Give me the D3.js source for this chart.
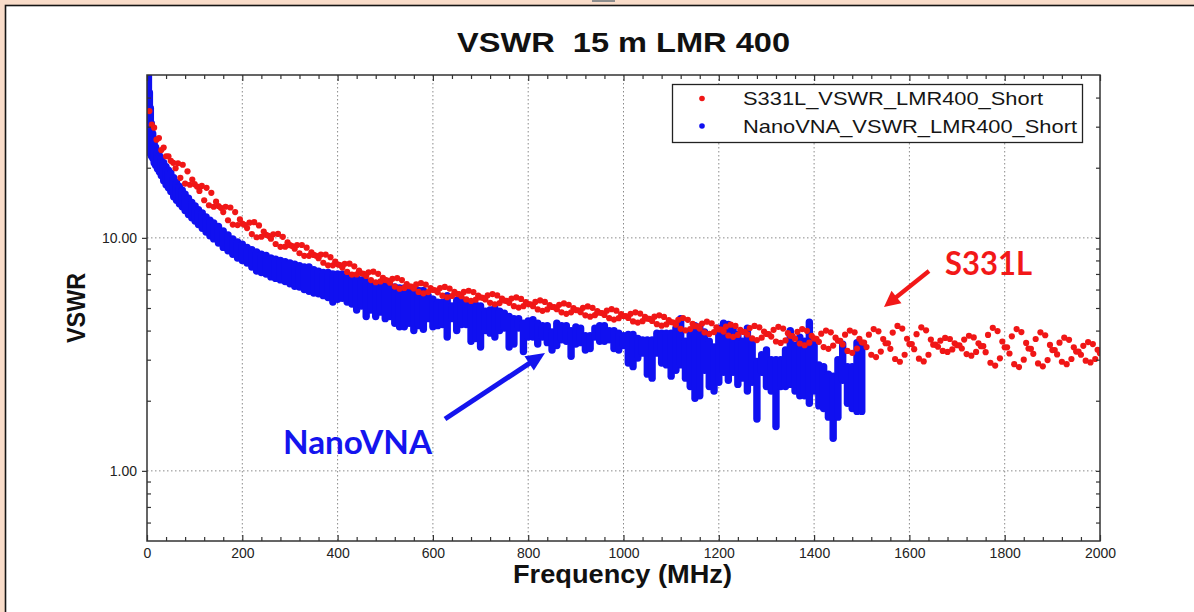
<!DOCTYPE html>
<html>
<head>
<meta charset="utf-8">
<script src="https://cdn.jsdelivr.net/npm/d3@7"></script>
<style>
  html, body { margin: 0; padding: 0; background: #f9dcc9; }
  svg { display: block; }
</style>
</head>
<body>
<svg id="chart" width="1194" height="612"></svg>
<script>
// axis values
const freqMajor = [0, 200, 400, 600, 800, 1000, 1200, 1400, 1600, 1800, 2000];
const vswrMajor = [1, 10];
const vswrMinor = [0.6, 0.7, 0.8, 0.9, 2, 3, 4, 5, 6, 7, 8, 9, 20, 30, 40];

const seriesNames = ["S331L_VSWR_LMR400_Short", "NanoVNA_VSWR_LMR400_Short"];
const seriesColors = ["#f01616", "#1010f0"];

// S331L sweep, one value every 5 MHz starting at 5 MHz
const s331Start = 5;
const s331Step = 5;
const s331Vswr = [
  35.0, 30.6, 29.7, 26.4, 26.8, 23.8, 24.4, 22.4, 22.4, 21.4,
  21.0, 19.9, 20.9, 18.1, 20.6, 17.1, 19.3, 16.9, 17.8, 17.0,
  16.6, 15.9, 16.7, 14.5, 16.4, 13.8, 15.6, 13.6, 14.3, 13.7,
  13.45, 12.9, 13.6, 11.9, 13.5, 11.4, 12.9, 11.35, 12.0, 11.5,
  11.38, 11.02, 11.62, 10.39, 11.68, 10.06, 11.31, 10.11, 10.64, 10.3,
  10.2, 9.92, 10.36, 9.41, 10.4, 9.15, 10.1, 9.17, 9.57, 9.3,
  9.22, 8.99, 9.32, 8.59, 9.32, 8.37, 9.08, 8.37, 8.67, 8.45,
  8.38, 8.18, 8.48, 7.82, 8.48, 7.62, 8.26, 7.62, 7.9, 7.7,
  7.64, 7.46, 7.74, 7.14, 7.75, 6.96, 7.55, 6.97, 7.23, 7.05,
  7.0, 6.86, 7.12, 6.59, 7.16, 6.45, 7.01, 6.5, 6.74, 6.6,
  6.56, 6.42, 6.67, 6.18, 6.72, 6.05, 6.59, 6.1, 6.33, 6.2,
  6.18, 6.07, 6.31, 5.86, 6.39, 5.78, 6.3, 5.85, 6.09, 5.98,
  5.96, 5.84, 6.09, 5.65, 6.16, 5.56, 6.06, 5.63, 5.86, 5.75,
  5.73, 5.62, 5.86, 5.44, 5.93, 5.36, 5.85, 5.43, 5.65, 5.55,
  5.53, 5.44, 5.67, 5.26, 5.74, 5.19, 5.66, 5.25, 5.48, 5.38,
  5.36, 5.26, 5.49, 5.09, 5.55, 5.02, 5.47, 5.09, 5.3, 5.2,
  5.19, 5.09, 5.31, 4.93, 5.39, 4.86, 5.31, 4.93, 5.15, 5.05,
  5.04, 4.94, 5.16, 4.79, 5.23, 4.72, 5.16, 4.79, 4.99, 4.9,
  4.89, 4.8, 5.01, 4.65, 5.08, 4.59, 5.01, 4.66, 4.85, 4.77,
  4.76, 4.67, 4.87, 4.52, 4.94, 4.46, 4.87, 4.52, 4.71, 4.62,
  4.61, 4.53, 4.72, 4.38, 4.79, 4.33, 4.73, 4.39, 4.58, 4.5,
  4.49, 4.4, 4.59, 4.26, 4.65, 4.2, 4.58, 4.25, 4.44, 4.35,
  4.33, 4.24, 4.45, 4.07, 4.53, 4.01, 4.45, 4.06, 4.28, 4.18,
  4.17, 4.08, 4.29, 3.93, 4.37, 3.87, 4.3, 3.94, 4.13, 4.05,
  4.04, 3.96, 4.16, 3.81, 4.24, 3.76, 4.19, 3.83, 4.03, 3.95,
  3.94, 3.85, 4.1, 3.7, 4.19, 3.64, 4.13, 3.73, 3.96, 3.87,
  3.86, 3.77, 4.03, 3.59, 4.15, 3.54, 4.08, 3.63, 3.9, 3.8,
  3.79, 3.69, 3.95, 3.52, 4.06, 3.46, 3.99, 3.55, 3.8, 3.7,
  3.69, 3.58, 3.88, 3.4, 4.0, 3.34, 3.93, 3.45, 3.73, 3.62,
  3.61, 3.49, 3.84, 3.27, 4.0, 3.21, 3.93, 3.35, 3.69, 3.56,
  3.55, 3.4, 3.84, 3.15, 4.06, 3.08, 3.97, 3.25, 3.68, 3.53,
  3.53, 3.34, 3.92, 3.02, 4.19, 2.94, 4.08, 3.15, 3.69, 3.5,
  3.5, 3.33, 3.86, 3.03, 4.13, 2.95, 4.01, 3.15, 3.66, 3.48,
  3.48, 3.41, 3.62, 3.27, 3.72, 3.24, 3.68, 3.32, 3.53, 3.46,
  3.46, 3.35, 3.66, 3.17, 3.8, 3.12, 3.74, 3.24, 3.53, 3.43,
  3.43, 3.23, 3.83, 2.91, 4.11, 2.83, 3.98, 3.04, 3.59, 3.39,
  3.39, 3.19, 3.78, 2.87, 4.06, 2.79, 3.94, 3.0, 3.54, 3.35,
  3.34, 3.18, 3.68, 2.89, 3.93, 2.81, 3.82, 2.99, 3.47, 3.3,
  3.3, 3.16, 3.55, 2.94, 3.73, 2.87, 3.65, 3.02, 3.39, 3.25,
  3.25, 3.15, 3.44, 2.97, 3.57, 2.92, 3.5, 3.02, 3.31, 3.2
];

// NanoVNA: the dots pile up into a band, read as [MHz, lowest, highest]
const nanoBands = [
  [1, 30, 70], [3, 26, 52], [5, 24, 42], [7, 23, 36], [9, 22.5, 31],
  [12, 22, 28], [15, 21, 26], [18, 20.5, 24.5], [22, 19.8, 23.5], [26, 19.2, 22.5],
  [30, 18.5, 21.8], [35, 17.6, 21], [40, 16.9, 20.2], [45, 16.4, 19.5], [50, 15.8, 19.0],
  [56, 15.0, 18.1], [62, 14.5, 17.3], [68, 14.0, 16.6], [74, 13.6, 16.0], [80, 13.1, 15.4],
  [87, 12.6, 14.8], [94, 12.2, 14.2], [101, 11.8, 13.7], [108, 11.4, 13.2], [116, 11.0, 12.8],
  [124, 10.6, 12.3], [132, 10.2, 11.9], [140, 9.9, 11.6], [150, 9.5, 11.2], [160, 9.1, 10.7],
  [170, 8.8, 10.3], [180, 8.5, 9.9], [190, 8.2, 9.6], [200, 8.0, 9.4], [210, 7.8, 9.1],
  [220, 7.5, 8.9], [230, 7.2, 8.7], [240, 7.1, 8.5], [250, 7.0, 8.4], [260, 6.8, 8.2],
  [270, 6.7, 8.1], [280, 6.6, 8.0], [290, 6.5, 7.9], [300, 6.35, 7.8], [310, 6.2, 7.7],
  [320, 6.15, 7.6], [330, 6.0, 7.5], [340, 5.9, 7.5], [350, 5.8, 7.3], [360, 5.75, 7.2],
  [370, 5.65, 7.1], [380, 5.55, 7.1], [390, 5.3, 7.0], [400, 5.45, 7.0], [410, 5.5, 7.0],
  [420, 5.3, 6.9], [430, 5.2, 6.8], [440, 4.9, 6.7], [450, 5.1, 6.6], [460, 4.6, 6.5],
  [470, 4.9, 6.4], [480, 4.6, 6.35], [490, 4.8, 6.3], [500, 4.5, 6.25], [510, 4.6, 6.2],
  [520, 4.3, 6.15], [530, 4.15, 6.1], [540, 4.15, 6.1], [550, 4.3, 6.0], [560, 4.0, 5.95],
  [570, 4.2, 5.95], [580, 4.05, 5.95], [590, 4.5, 5.65], [600, 4.15, 5.45], [610, 4.2, 5.3],
  [620, 4.25, 5.3], [630, 3.75, 5.65], [640, 4.5, 5.1], [650, 4.0, 5.4], [660, 4.25, 5.4],
  [670, 4.25, 5.2], [680, 3.6, 5.15], [690, 3.7, 5.15], [700, 3.4, 5.1], [710, 4.0, 4.85],
  [720, 3.9, 4.9], [730, 3.75, 5.0], [740, 4.0, 4.85], [750, 4.1, 4.75], [760, 3.4, 4.6],
  [770, 3.5, 4.5], [780, 4.1, 4.5], [790, 3.25, 4.3], [800, 3.75, 4.4], [810, 3.75, 4.45],
  [820, 3.5, 4.3], [830, 3.75, 4.2], [840, 3.55, 4.2], [850, 3.3, 3.95], [860, 3.45, 4.3],
  [870, 3.65, 4.2], [880, 3.6, 4.2], [890, 3.1, 4.0], [900, 3.5, 4.15], [910, 3.55, 4.1],
  [920, 3.3, 3.8], [930, 3.35, 3.8], [940, 3.75, 4.1], [950, 3.6, 4.2], [960, 3.6, 4.2],
  [970, 3.65, 4.0], [980, 3.35, 4.0], [990, 3.3, 3.9], [1000, 3.45, 3.8], [1010, 2.9, 3.85],
  [1020, 2.8, 3.85], [1030, 3.05, 3.7], [1040, 3.2, 3.65], [1050, 2.6, 3.65], [1060, 2.5, 3.65],
  [1070, 3.2, 3.9], [1080, 2.9, 3.9], [1090, 2.85, 3.9], [1100, 2.55, 3.9], [1110, 2.7, 4.1],
  [1120, 2.85, 4.5], [1130, 2.5, 3.6], [1140, 2.3, 3.9], [1150, 2.05, 4.2], [1160, 2.1, 4.15],
  [1170, 2.7, 3.95], [1180, 2.3, 3.6], [1190, 2.2, 3.4], [1200, 2.4, 4.1], [1210, 2.65, 4.3],
  [1220, 2.45, 4.25], [1230, 2.65, 4.1], [1240, 2.35, 3.85], [1250, 2.5, 3.6], [1260, 2.2, 4.1],
  [1270, 2.4, 3.6], [1280, 1.67, 2.95], [1290, 2.65, 3.15], [1300, 2.3, 3.3], [1310, 2.2, 3.0],
  [1320, 1.55, 3.0], [1330, 2.3, 3.0], [1340, 2.3, 3.3], [1350, 2.35, 4.0], [1360, 2.2, 3.45],
  [1370, 2.1, 3.75], [1380, 2.1, 3.6], [1390, 1.95, 4.35], [1400, 2.2, 3.6], [1410, 1.9, 2.85],
  [1420, 1.85, 2.8], [1430, 1.7, 2.6], [1440, 1.38, 2.55], [1450, 1.7, 3.0], [1460, 2.45, 3.5],
  [1470, 1.95, 2.8], [1480, 1.85, 2.8], [1490, 1.8, 3.55], [1500, 1.8, 3.4]
];

const s331 = s331Vswr.map((v, i) => ({ f: s331Start + i * s331Step, v: v }));

const plot = { left: 147, top: 75, right: 1100, bottom: 541 };

const x = d3.scaleLinear().domain([0, 2000]).range([plot.left, plot.right]);
const y = d3.scaleLog().domain([0.5, 50]).range([plot.bottom, plot.top]);

const svg = d3.select("#chart");
const defs = svg.append("defs");

defs.append("clipPath").attr("id", "plot-clip")
  .append("rect")
  .attr("x", plot.left)
  .attr("y", plot.top)
  .attr("width", plot.right - plot.left)
  .attr("height", plot.bottom - plot.top);

// page panel
svg.append("rect")
  .attr("x", 5.5).attr("y", 5.5)
  .attr("width", 1200).attr("height", 620)
  .attr("fill", "#fff")
  .attr("stroke", "#151515")
  .attr("stroke-width", 1.6);

svg.append("rect")
  .attr("x", 592).attr("y", 0)
  .attr("width", 23).attr("height", 2)
  .attr("fill", "#8d8d8d");

// grid
const grid = svg.append("g").attr("stroke", "#8a8a8a").attr("stroke-width", 1)
  .attr("stroke-dasharray", "1.5,2.5");

grid.selectAll("line.gx")
  .data(freqMajor.filter(f => f > 0 && f < 2000))
  .enter().append("line")
  .attr("x1", d => x(d)).attr("x2", d => x(d))
  .attr("y1", plot.top).attr("y2", plot.bottom);

grid.selectAll("line.gy")
  .data(vswrMajor)
  .enter().append("line")
  .attr("x1", plot.left).attr("x2", plot.right)
  .attr("y1", d => y(d)).attr("y2", d => y(d));

// data
const dataLayer = svg.append("g").attr("clip-path", "url(#plot-clip)");

dataLayer.append("g")
  .selectAll("line")
  .data(nanoBands)
  .enter().append("line")
  .attr("x1", d => x(d[0])).attr("x2", d => x(d[0]))
  .attr("y1", d => y(d[1])).attr("y2", d => y(d[2]))
  .attr("stroke", seriesColors[1])
  .attr("stroke-width", 7.4)
  .attr("stroke-linecap", "round");

dataLayer.append("g")
  .selectAll("circle")
  .data(s331)
  .enter().append("circle")
  .attr("cx", d => x(d.f))
  .attr("cy", d => y(d.v))
  .attr("r", 3.1)
  .attr("fill", seriesColors[0]);

// axes
const freqMinor = d3.range(40, 2000, 40).filter(f => f % 200 !== 0);

function styleAxis(g) {
  g.select(".domain").remove();
  g.selectAll("line").attr("stroke", "#333").attr("stroke-width", 1.2);
  g.selectAll("text")
    .attr("font-family", "'Liberation Sans', Arial, sans-serif")
    .attr("font-size", 14)
    .attr("fill", "#222");
}

svg.append("g")
  .attr("transform", `translate(0,${plot.bottom})`)
  .call(d3.axisBottom(x).tickValues(freqMajor).tickSize(-6).tickPadding(7).tickFormat(d3.format("d")))
  .call(styleAxis);
svg.append("g")
  .attr("transform", `translate(0,${plot.bottom})`)
  .call(d3.axisBottom(x).tickValues(freqMinor).tickSize(-4).tickFormat(""))
  .call(styleAxis);
svg.append("g")
  .attr("transform", `translate(0,${plot.top})`)
  .call(d3.axisTop(x).tickValues(freqMajor).tickSize(-6).tickFormat(""))
  .call(styleAxis);
svg.append("g")
  .attr("transform", `translate(0,${plot.top})`)
  .call(d3.axisTop(x).tickValues(freqMinor).tickSize(-4).tickFormat(""))
  .call(styleAxis);

svg.append("g")
  .attr("transform", `translate(${plot.left},0)`)
  .call(d3.axisLeft(y).tickValues(vswrMajor).tickSize(5).tickPadding(5).tickFormat(d3.format(".2f")))
  .call(styleAxis);
svg.append("g")
  .attr("transform", `translate(${plot.left},0)`)
  .call(d3.axisLeft(y).tickValues(vswrMinor).tickSize(-4).tickFormat(""))
  .call(styleAxis);
svg.append("g")
  .attr("transform", `translate(${plot.right},0)`)
  .call(d3.axisRight(y).tickValues(vswrMajor.concat(vswrMinor)).tickSize(-4).tickFormat(""))
  .call(styleAxis);

// frame
svg.append("rect")
  .attr("x", plot.left).attr("y", plot.top)
  .attr("width", plot.right - plot.left)
  .attr("height", plot.bottom - plot.top)
  .attr("fill", "none")
  .attr("stroke", "#333")
  .attr("stroke-width", 1.5);

// titles
const sans = "'Liberation Sans', Arial, sans-serif";

svg.append("text")
  .attr("x", 457).attr("y", 52)
  .attr("font-family", sans).attr("font-weight", "bold").attr("font-size", 28)
  .attr("textLength", 333).attr("lengthAdjust", "spacingAndGlyphs")
  .attr("fill", "#111")
  .attr("xml:space", "preserve")
  .text("VSWR  15 m LMR 400");

svg.append("text")
  .attr("x", 513).attr("y", 583)
  .attr("font-family", sans).attr("font-weight", "bold").attr("font-size", 25)
  .attr("textLength", 219).attr("lengthAdjust", "spacingAndGlyphs")
  .attr("fill", "#111")
  .text("Frequency (MHz)");

svg.append("text")
  .attr("transform", "translate(85,343) rotate(-90)")
  .attr("font-family", sans).attr("font-weight", "bold").attr("font-size", 25)
  .attr("textLength", 70).attr("lengthAdjust", "spacingAndGlyphs")
  .attr("fill", "#111")
  .text("VSWR");

// legend
const legend = svg.append("g");
legend.append("rect")
  .attr("x", 672.5).attr("y", 84.5)
  .attr("width", 410).attr("height", 58)
  .attr("fill", "#fff")
  .attr("stroke", "#222").attr("stroke-width", 1.3);

const legendWidths = [300, 334];
legend.selectAll("g.item")
  .data(seriesNames)
  .enter().append("g")
  .attr("transform", (d, i) => `translate(0,${98.5 + i * 27.5})`)
  .each(function (d, i) {
    const g = d3.select(this);
    g.append("circle").attr("cx", 702).attr("cy", 0).attr("r", 2.8).attr("fill", seriesColors[i]);
    g.append("text")
      .attr("x", 743).attr("y", 6.8)
      .attr("font-family", sans).attr("font-size", 18.5)
      .attr("textLength", legendWidths[i]).attr("lengthAdjust", "spacingAndGlyphs")
      .attr("fill", "#151515")
      .text(d);
  });

// call-outs
function arrow(x1, y1, x2, y2, color, width, headLen, headHalf) {
  const dx = x2 - x1, dy = y2 - y1;
  const len = Math.hypot(dx, dy);
  const ux = dx / len, uy = dy / len;
  const bx = x2 - ux * headLen, by = y2 - uy * headLen;
  svg.append("line")
    .attr("x1", x1).attr("y1", y1)
    .attr("x2", bx + ux * 2).attr("y2", by + uy * 2)
    .attr("stroke", color).attr("stroke-width", width);
  svg.append("path")
    .attr("d", `M${x2},${y2}L${bx - uy * headHalf},${by + ux * headHalf}L${bx + uy * headHalf},${by - ux * headHalf}Z`)
    .attr("fill", color);
}

arrow(929, 271, 884, 307, "#f21818", 4.2, 16, 8);
arrow(445, 419, 545, 353, "#1414ee", 5, 19, 8.5);

const calloutFont = "Lato, 'Open Sans', sans-serif";
svg.append("text")
  .attr("x", 945).attr("y", 275)
  .attr("font-family", calloutFont).attr("font-weight", "bold").attr("font-size", 32)
  .attr("textLength", 87).attr("lengthAdjust", "spacingAndGlyphs")
  .attr("fill", "#f21818")
  .text("S331L");

svg.append("text")
  .attr("x", 283).attr("y", 454)
  .attr("font-family", calloutFont).attr("font-weight", "bold").attr("font-size", 32)
  .attr("textLength", 149).attr("lengthAdjust", "spacingAndGlyphs")
  .attr("fill", "#1414ee")
  .text("NanoVNA");
</script>
</body>
</html>
